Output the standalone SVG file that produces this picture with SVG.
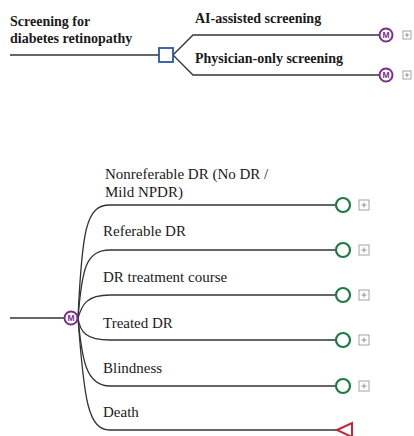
<svg xmlns="http://www.w3.org/2000/svg" width="414" height="436" viewBox="0 0 414 436">
  <style>
    .lbl { font-family: "Liberation Serif", "Times New Roman", serif; fill: #1a1a1a; }
    .top { font-size: 14px; font-weight: bold; }
    .sub { font-size: 15px; }
    .edge { fill: none; stroke: #333; stroke-width: 1.3; }
    .markov circle { fill: #fff; stroke: #7b2d8e; stroke-width: 2; }
    .markov text { font-family: "Liberation Sans", Arial, sans-serif; font-size: 8.5px; font-weight: bold; fill: #7b2d8e; text-anchor: middle; }
    .chance { fill: #fff; stroke: #1e7a45; stroke-width: 2.2; }
    .expand rect { fill: #fff; stroke: #999; stroke-width: 0.9; }
    .expand path { stroke: #888; stroke-width: 0.9; fill: none; }
  </style>

  <!-- connectors -->
  <g id="connectors">
    <!-- decision tree -->
    <path class="edge" d="M10 55 H159"/>
    <path class="edge" d="M173 55 L193 35 H379"/>
    <path class="edge" d="M173 55 L193 75 H379"/>
    <!-- markov states -->
    <path class="edge" d="M10 318 H64"/>
    <path class="edge" d="M78 318 C82 230 86 205 110 205 H336"/>
    <path class="edge" d="M78 318 C82 268 86 250 110 250 H336"/>
    <path class="edge" d="M78 318 C82 305 86 295 110 295 H336"/>
    <path class="edge" d="M78 318 C80 332 86 340 110 340 H336"/>
    <path class="edge" d="M78 318 C82 360 86 386 110 386 H336"/>
    <path class="edge" d="M78 318 C84 400 88 430 110 430 H337"/>
  </g>

  <!-- decision node -->
  <g id="decision">
    <rect x="159" y="48" width="14" height="14" fill="#fff" stroke="#2e56a0" stroke-width="1.8"/>
    <text class="lbl top" x="10" y="26">Screening for</text>
    <text class="lbl top" x="10" y="43">diabetes retinopathy</text>
  </g>

  <!-- strategy: AI-assisted -->
  <g id="ai-screening">
    <text class="lbl top" x="195" y="23">AI-assisted screening</text>
    <g class="markov"><circle cx="386" cy="35" r="6.5"/><text x="386" y="38">M</text></g>
    <g class="expand"><rect x="403" y="31" width="8" height="8"/><path d="M405 35 H409 M407 33 V37"/></g>
  </g>

  <!-- strategy: physician-only -->
  <g id="physician-screening">
    <text class="lbl top" x="195" y="63">Physician-only screening</text>
    <g class="markov"><circle cx="386" cy="75" r="6.5"/><text x="386" y="78">M</text></g>
    <g class="expand"><rect x="403" y="71" width="8" height="8"/><path d="M405 75 H409 M407 73 V77"/></g>
  </g>

  <!-- markov node -->
  <g id="markov-node">
    <g class="markov"><circle cx="71" cy="318" r="6.5"/><text x="71" y="321">M</text></g>
  </g>

  <!-- health states -->
  <g id="state-nonreferable">
    <text class="lbl sub" x="105" y="179">Nonreferable DR (No DR /</text>
    <text class="lbl sub" x="105" y="197">Mild NPDR)</text>
    <circle class="chance" cx="343" cy="205" r="7"/>
    <g class="expand"><rect x="359" y="200" width="10" height="10"/><path d="M361.5 205 H366.5 M364 202.5 V207.5"/></g>
  </g>
  <g id="state-referable">
    <text class="lbl sub" x="103" y="236">Referable DR</text>
    <circle class="chance" cx="343" cy="250" r="7"/>
    <g class="expand"><rect x="359" y="245" width="10" height="10"/><path d="M361.5 250 H366.5 M364 247.5 V252.5"/></g>
  </g>
  <g id="state-treatment">
    <text class="lbl sub" x="103" y="282">DR treatment course</text>
    <circle class="chance" cx="343" cy="295" r="7"/>
    <g class="expand"><rect x="359" y="290" width="10" height="10"/><path d="M361.5 295 H366.5 M364 292.5 V297.5"/></g>
  </g>
  <g id="state-treated">
    <text class="lbl sub" x="103" y="328">Treated DR</text>
    <circle class="chance" cx="343" cy="340" r="7"/>
    <g class="expand"><rect x="359" y="335" width="10" height="10"/><path d="M361.5 340 H366.5 M364 337.5 V342.5"/></g>
  </g>
  <g id="state-blindness">
    <text class="lbl sub" x="103" y="373">Blindness</text>
    <circle class="chance" cx="343" cy="386" r="7"/>
    <g class="expand"><rect x="359" y="381" width="10" height="10"/><path d="M361.5 386 H366.5 M364 383.5 V388.5"/></g>
  </g>
  <g id="state-death">
    <text class="lbl sub" x="103" y="417">Death</text>
    <polygon points="337,430 352,423 352,437" fill="#fff" stroke="#c0283a" stroke-width="2"/>
  </g>
</svg>
